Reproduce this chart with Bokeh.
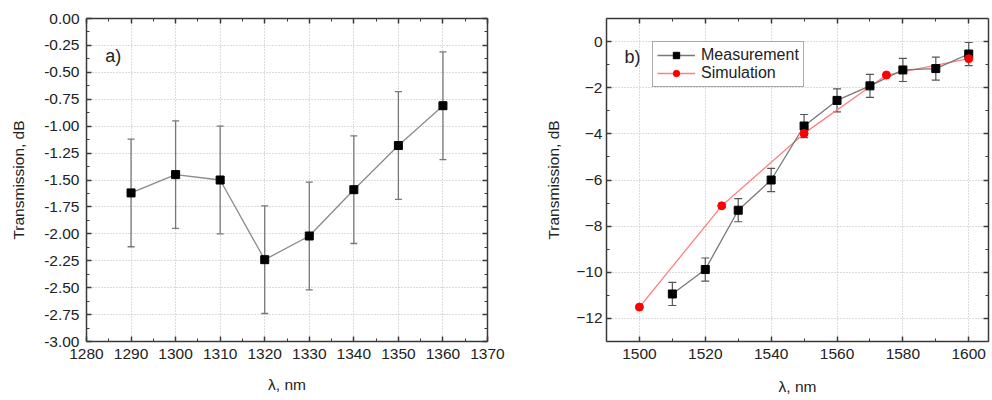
from bokeh.plotting import figure
from bokeh.models import (Range1d, FixedTicker, LinearAxis, Whisker, ColumnDataSource,
                          Legend, LegendItem, Label, NumeralTickFormatter, TeeHead,
                          CustomLabelingPolicy)
from bokeh.layouts import row
from bokeh.embed import file_html
from bokeh.resources import INLINE

# ---------------- data ----------------
# panel a)
wl_a = [1290, 1300, 1310, 1320, 1330, 1340, 1350, 1360]
tr_a = [-1.62, -1.45, -1.50, -2.24, -2.02, -1.59, -1.18, -0.81]
err_a = [0.5, 0.5, 0.5, 0.5, 0.5, 0.5, 0.5, 0.5]
xticks_a = [1280, 1290, 1300, 1310, 1320, 1330, 1340, 1350, 1360, 1370]
yticks_a = [0.0, -0.25, -0.5, -0.75, -1.0, -1.25, -1.5, -1.75, -2.0, -2.25, -2.5, -2.75, -3.0]

# panel b)
wl_meas = [1510, 1520, 1530, 1540, 1550, 1560, 1570, 1580, 1590, 1600]
tr_meas = [-10.94, -9.88, -7.31, -6.00, -3.66, -2.55, -1.92, -1.23, -1.17, -0.54]
err_meas = [0.5, 0.5, 0.5, 0.5, 0.5, 0.5, 0.5, 0.5, 0.5, 0.5]
wl_sim = [1500, 1525, 1550, 1575, 1600]
tr_sim = [-11.51, -7.12, -3.98, -1.45, -0.74]
xticks_b = [1500, 1520, 1540, 1560, 1580, 1600]
yticks_b = [0, -2, -4, -6, -8, -10, -12]

FONT = "Liberation Sans"
AX = "#3a3a3a"
TXT = "#222222"

NO_LABELS = CustomLabelingPolicy(
    code="for (let i = 0; i < indices.size; i++) { indices.unset(i) }; return indices")


def minor_between(ticks, n):
    out = []
    for a, b in zip(ticks[:-1], ticks[1:]):
        for k in range(1, n):
            out.append(a + (b - a) * k / n)
    return out


def style(p, xt, yt, fmt=None):
    xtick = FixedTicker(ticks=xt, minor_ticks=minor_between(xt, 2) + [xt[0] - (xt[1] - xt[0]) / 2])
    ytick = FixedTicker(ticks=yt, minor_ticks=minor_between(yt, 2) + [yt[-1] - (yt[-2] - yt[-1]) / 2])
    bx, ly = p.below[0], p.left[0]
    bx.ticker = xtick
    ly.ticker = ytick
    p.xgrid.ticker = xtick
    p.ygrid.ticker = ytick
    if fmt:
        ly.formatter = NumeralTickFormatter(format=fmt)
    for ax in (bx, ly):
        ax.axis_line_color = AX
        ax.axis_line_width = 1.5
        ax.major_tick_line_color = AX
        ax.minor_tick_line_color = AX
        ax.major_tick_line_width = 1.5
        ax.major_tick_in = 5
        ax.major_tick_out = 0
        ax.minor_tick_in = 3
        ax.minor_tick_out = 0
        ax.major_label_text_font = FONT
        ax.major_label_text_font_size = "15.5px"
        ax.major_label_text_color = TXT
        ax.axis_label_text_font = FONT
        ax.axis_label_text_font_size = "15.5px"
        ax.axis_label_text_font_style = "normal"
        ax.axis_label_text_color = TXT
    for loc, tk in (("above", xtick), ("right", ytick)):
        ax = LinearAxis(ticker=tk, axis_line_color=AX, axis_line_width=1.5,
                        major_tick_line_color=AX, minor_tick_line_color=AX,
                        major_tick_line_width=1.5,
                        major_tick_in=5, major_tick_out=0, minor_tick_in=3, minor_tick_out=0,
                        major_label_policy=NO_LABELS, major_label_text_font_size="0px",
                        major_label_standoff=0)
        p.add_layout(ax, loc)
    for g in (p.xgrid[0], p.ygrid[0]):
        g.grid_line_color = "#b8b8b8"
        g.grid_line_dash = "1 2"
        g.grid_line_width = 1
    p.outline_line_color = None
    p.background_fill_color = "white"
    p.border_fill_color = "white"
    return bx, ly


# ---------------- panel a ----------------
pa = figure(width=540, height=400, output_backend="svg", toolbar_location=None,
            x_range=Range1d(1280, 1370), y_range=Range1d(-3.0, 0.0),
            min_border_left=86, min_border_right=53, min_border_top=13, min_border_bottom=59)
bxa, lya = style(pa, xticks_a, yticks_a, fmt="0.00")
bxa.axis_label = "λ, nm"
lya.axis_label = "Transmission, dB"
bxa.major_label_standoff = 7
bxa.axis_label_standoff = 14
lya.major_label_standoff = 7
lya.axis_label_standoff = 14

src_a = ColumnDataSource(dict(x=wl_a, y=tr_a,
                              up=[v + e for v, e in zip(tr_a, err_a)],
                              lo=[v - e for v, e in zip(tr_a, err_a)]))
pa.add_layout(Whisker(base="x", upper="up", lower="lo", dimension="height", source=src_a,
                      line_color="#777777", line_width=1.3,
                      upper_head=TeeHead(size=7, line_color="#777777", line_width=1.3),
                      lower_head=TeeHead(size=7, line_color="#777777", line_width=1.3)))
pa.line("x", "y", source=src_a, line_color="#8a8a8a", line_width=1.3)
pa.scatter("x", "y", source=src_a, marker="square", size=8, fill_color="black", line_color="black")
pa.add_layout(Label(x=1284.2, y=-0.35, text="a)", text_font=FONT, text_font_size="18px",
                    text_color=TXT, text_baseline="middle", text_align="left"))

# ---------------- panel b ----------------
pb = figure(width=452, height=400, output_backend="svg", toolbar_location=None,
            x_range=Range1d(1490, 1606), y_range=Range1d(-13, 1),
            min_border_left=66, min_border_right=4, min_border_top=18, min_border_bottom=57)
bxb, lyb = style(pb, xticks_b, yticks_b)
bxb.axis_label = "λ, nm"
lyb.axis_label = "Transmission, dB"
bxb.major_label_standoff = 7
bxb.axis_label_standoff = 16
lyb.major_label_standoff = 4
lyb.axis_label_standoff = 11

src_m = ColumnDataSource(dict(x=wl_meas, y=tr_meas,
                              up=[v + e for v, e in zip(tr_meas, err_meas)],
                              lo=[v - e for v, e in zip(tr_meas, err_meas)]))
src_s = ColumnDataSource(dict(x=wl_sim, y=tr_sim))
pb.add_layout(Whisker(base="x", upper="up", lower="lo", dimension="height", source=src_m,
                      line_color="#555555", line_width=1.2,
                      upper_head=TeeHead(size=8, line_color="#555555", line_width=1.2),
                      lower_head=TeeHead(size=8, line_color="#555555", line_width=1.2)))
l_sim = pb.line("x", "y", source=src_s, line_color="#ff8080", line_width=1.3)
l_meas = pb.line("x", "y", source=src_m, line_color="#777777", line_width=1.3)
s_meas = pb.scatter("x", "y", source=src_m, marker="square", size=8, fill_color="black", line_color="black")
s_sim = pb.scatter("x", "y", source=src_s, marker="circle", size=8, fill_color="red", line_color="red")

legend = Legend(items=[LegendItem(label="Measurement", renderers=[l_meas, s_meas]),
                       LegendItem(label="Simulation", renderers=[l_sim, s_sim])],
                location=(46, 254), label_text_font=FONT, label_text_font_size="16px",
                label_text_color=TXT, glyph_width=38, glyph_height=16, label_standoff=6,
                padding=4, spacing=0, margin=0, border_line_color="#555555",
                border_line_width=1, background_fill_alpha=1)
pb.add_layout(legend)
pb.add_layout(Label(x=1495.5, y=-0.65, text="b)", text_font=FONT, text_font_size="18px",
                    text_color=TXT, text_baseline="middle", text_align="left"))

layout = row(pa, pb)
open("out.html", "w").write(file_html(layout, INLINE))
